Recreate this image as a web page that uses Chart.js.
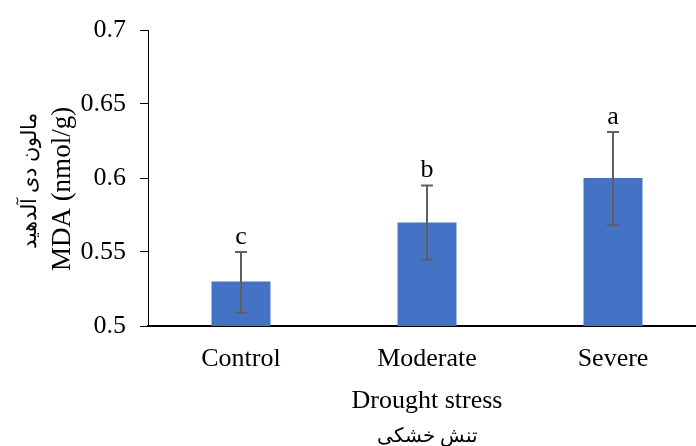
<!DOCTYPE html>
<html>
<head>
<meta charset="utf-8">
<script src="https://cdn.jsdelivr.net/npm/chart.js@4"></script>
<style>
  html, body { margin: 0; padding: 0; overflow: hidden; background: #fff; }
  #wrap { position: relative; width: 706px; height: 446px; }
</style>
</head>
<body>
<div id="wrap"><canvas id="myChart" width="706" height="446"></canvas></div>
<script>
const categories = ["Control", "Moderate", "Severe"];
const mdaValues = [0.53, 0.57, 0.6];
const errLow = [0.509, 0.545, 0.568];
const errHigh = [0.55, 0.595, 0.631];
const letters = ["c", "b", "a"];
const yTicks = [0.5, 0.55, 0.6, 0.65, 0.7];

const serif = "'Liberation Serif', 'Times New Roman', serif";

// error bars + significance letters + axis titles
const extras = {
  id: "extras",
  afterDatasetsDraw(chart) {
    const ctx = chart.ctx;
    const x = chart.scales.x;
    const y = chart.scales.y;
    ctx.save();
    ctx.strokeStyle = "#5f5f5f";
    ctx.lineWidth = 2;
    mdaValues.forEach((v, i) => {
      const cx = x.getPixelForValue(i);
      const top = y.getPixelForValue(errHigh[i]);
      const bot = y.getPixelForValue(errLow[i]);
      ctx.beginPath();
      ctx.moveTo(cx, top); ctx.lineTo(cx, bot);
      ctx.moveTo(cx - 6, top); ctx.lineTo(cx + 6, top);
      ctx.moveTo(cx - 6, bot); ctx.lineTo(cx + 6, bot);
      ctx.stroke();
      ctx.fillStyle = "#000";
      ctx.font = "26px " + serif;
      ctx.textAlign = "center";
      ctx.textBaseline = "alphabetic";
      ctx.fillText(letters[i], cx, top - 8);
    });

    const area = chart.chartArea;
    const midX = (area.left + area.right) / 2;
    ctx.fillStyle = "#000";
    ctx.textAlign = "center";
    ctx.textBaseline = "middle";
    ctx.font = "26px " + serif;
    ctx.fillText("Drought stress", midX, 401);
    ctx.font = "20px " + serif;
    ctx.fillText("تنش خشکی", midX, 437);

    ctx.translate(63, 189);
    ctx.rotate(-Math.PI / 2);
    ctx.font = "27px " + serif;
    ctx.fillText("MDA (nmol/g)", 0, 0);
    ctx.font = "21px " + serif;
    ctx.fillText("مالون دی آلدهید", 8, -33);
    ctx.restore();
  }
};

const data = {
  labels: categories,
  datasets: [
    {
      label: "MDA",
      data: mdaValues,
      backgroundColor: "#4472C4",
      borderWidth: 0,
      categoryPercentage: 1,
      barPercentage: 0.317,
    },
  ],
};

const config = {
  type: "bar",
  data: data,
  options: {
    responsive: false,
    animation: false,
    layout: { padding: { top: 30, left: 0, right: 0, bottom: 0 } },
    plugins: { legend: { display: false }, tooltip: { enabled: false } },
    scales: {
      x: {
        grid: { display: false, drawTicks: false },
        border: { display: true, color: "#000", width: 2 },
        ticks: { color: "#000", font: { family: serif, size: 26 }, padding: 18 },
        afterFit: (scale) => { scale.height = 120; },
      },
      y: {
        min: 0.5,
        max: 0.7,
        afterBuildTicks: (scale) => { scale.ticks = yTicks.map((v) => ({ value: v })); },
        grid: { drawOnChartArea: false, drawTicks: true, tickLength: 8, color: "#000" },
        border: { display: true, color: "#000", width: 1 },
        ticks: {
          color: "#000",
          padding: 14,
          font: { family: serif, size: 26 },
          callback: (v) => String(Math.round(v * 100) / 100),
        },
        afterFit: (scale) => { scale.width = 148; },
      },
    },
  },
  plugins: [extras],
};

const myChart = new Chart(document.getElementById("myChart").getContext("2d"), config);
</script>
</body>
</html>
